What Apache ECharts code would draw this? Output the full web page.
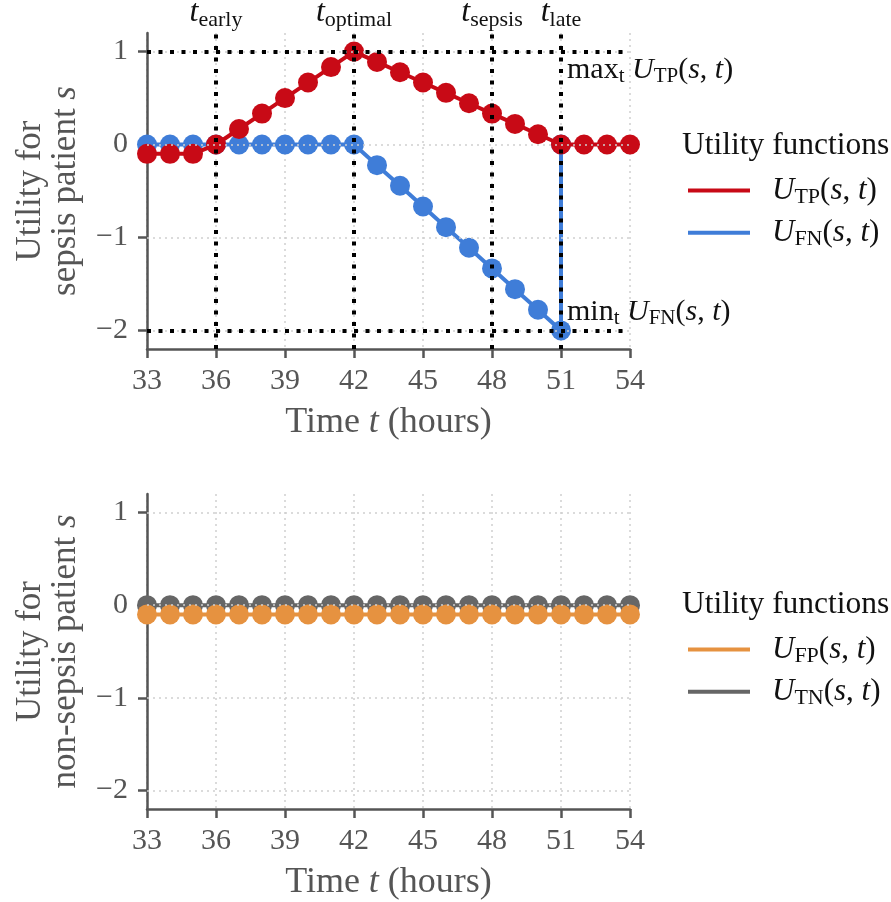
<!DOCTYPE html>
<html><head><meta charset="utf-8">
<script src="https://cdn.jsdelivr.net/npm/echarts@6/dist/echarts.min.js"></script>
<style>html,body{margin:0;padding:0;background:#fff}#c{width:891px;height:902px}</style>
</head><body><div id="c"></div>
<script>
// ---------------- data ----------------
const hours = [33,34,35,36,37,38,39,40,41,42,43,44,45,46,47,48,49,50,51,52,53,54];
const utp   = [-0.1,-0.1,-0.1,0,0.167,0.333,0.5,0.667,0.833,1,0.889,0.778,0.667,0.556,0.444,0.333,0.222,0.111,0,0,0,0];
const ufnHours = [33,34,35,36,37,38,39,40,41,42,43,44,45,46,47,48,49,50,51,51];
const ufn      = [0,0,0,0,0,0,0,0,0,0,-0.222,-0.444,-0.667,-0.889,-1.111,-1.333,-1.556,-1.778,-2,0];
const ufp   = [-0.1,-0.1,-0.1,-0.1,-0.1,-0.1,-0.1,-0.1,-0.1,-0.1,-0.1,-0.1,-0.1,-0.1,-0.1,-0.1,-0.1,-0.1,-0.1,-0.1,-0.1,-0.1];
const utn   = [0,0,0,0,0,0,0,0,0,0,0,0,0,0,0,0,0,0,0,0,0,0];
const xTicks = [33,36,39,42,45,48,51,54];
const yTicks = [-2,-1,0,1];
const timeMarks = [{sub:'early', x:36},{sub:'optimal', x:42},{sub:'sepsis', x:48},{sub:'late', x:51}];
const refLevels = [1,-2];
const extremes = [{op:'max', fn:'TP', x:51, y:0.8},{op:'min', fn:'FN', x:51, y:-1.8}];

// ---------------- style ----------------
const FF = "'Liberation Serif','Times New Roman',serif";
const AX = '#555';
const COL = {UTP:'#C80A16', UFN:'#3F7DD8', UFP:'#E69240', UTN:'#666666'};

function rich(size, color, lh){
  const s = Math.round(size*0.7);
  const L = size*(lh||1.15);
  return {
    rm:{fontFamily:FF, fontSize:size, color:color, lineHeight:L, verticalAlign:'middle'},
    it:{fontFamily:FF, fontStyle:'italic', fontSize:size, color:color, lineHeight:L, verticalAlign:'middle'},
    sub:{fontFamily:FF, fontSize:s, color:color, lineHeight:s, verticalAlign:'bottom'}
  };
}
function fnText(code){ return '{it|U}{sub|'+code+'}{rm|(}{it|s}{rm|, }{it|t}{rm|)}'; }

const xAxisBase = (gi) => ({
  type:'value', gridIndex:gi, min:33, max:54, interval:3,
  axisLine:{onZero:false, lineStyle:{color:AX, width:2.5}},
  axisTick:{length:9, lineStyle:{color:AX, width:2.5}},
  axisLabel:{margin:17, fontFamily:FF, fontSize:30, color:AX},
  splitLine:{show:true, lineStyle:{color:'#cfcfcf', width:1.5, type:[2,4]}},
  name:'{rm|Time }{it|t}{rm| (hours)}', nameLocation:'middle', nameGap:53,
  nameTextStyle:{rich:rich(36, AX)}
});
const yAxisBase = (gi, nm) => ({
  type:'value', gridIndex:gi, min:-2.2, max:1.2,
  axisLine:{onZero:false, lineStyle:{color:AX, width:2.5}},
  axisTick:{length:9, customValues:yTicks, lineStyle:{color:AX, width:2.5}},
  axisLabel:{margin:19, customValues:yTicks, fontFamily:FF, fontSize:30, color:AX,
    formatter:v => (v<0?'\u2212'+Math.abs(v):String(v))},
  splitLine:{show:false},
  name:nm, nameLocation:'middle', nameRotate:90, nameGap:64,
  nameTextStyle:{rich:rich(35, AX, 1.0)}
});

function pairs(xs, ys){ return xs.map((x,i)=>[x, ys[i]]); }

function dataSeries(name, xs, ys, gi, z){
  return {
    name:name, type:'line', xAxisIndex:gi, yAxisIndex:gi, z:z,
    data:pairs(xs, ys), symbol:'circle', symbolSize:20, showSymbol:true,
    lineStyle:{width:4, color:COL[name]}, itemStyle:{color:COL[name]},
    emphasis:{disabled:true}, silent:true, animation:false
  };
}
function gridSeries(gi){
  return {
    name:'grid'+gi, type:'line', xAxisIndex:gi, yAxisIndex:gi, z:1, data:[], silent:true, animation:false,
    markLine:{silent:true, symbol:['none','none'], label:{show:false}, animation:false,
      lineStyle:{color:'#cfcfcf', width:1.5, type:[2,4]},
      data:yTicks.map(v=>({yAxis:v}))}
  };
}

const refSeries = {
  name:'refs', type:'line', xAxisIndex:0, yAxisIndex:0, z:10, data:[], silent:true, animation:false,
  markLine:{silent:true, symbol:['none','none'], animation:false,
    lineStyle:{color:'#000', width:4, type:[4,7.5], cap:'butt'},
    data: timeMarks.map(m=>({xAxis:m.x, label:{show:true, position:'end', distance:2,
        formatter:'{it|t}{sub|'+m.sub+'}', rich:rich(32,'#111')}}))
      .concat(refLevels.map(v=>({yAxis:v, label:{show:false}})))
  },
  markPoint:{silent:true, animation:false, symbol:'circle', symbolSize:0,
    data: extremes.map(e=>({coord:[e.x, e.y], label:{show:true, position:'right', distance:6,
      formatter:'{rm|'+e.op+'}{sub|t}{rm| }'+fnText(e.fn), rich:rich(30,'#111')}}))
  }
};

const legendBase = (names, top) => ({
  data:names, orient:'vertical', left:683, top:top, icon:'rect', itemWidth:62, itemHeight:4, itemGap:9,
  selectedMode:false,
  formatter:n => fnText(n.slice(1)),
  textStyle:{padding:[0,0,0,17], rich:rich(31,'#111')}
});

const option = {
  animation:false,
  backgroundColor:'#fff',
  title:[
    {text:'Utility functions', left:682, top:130, padding:0, textStyle:{fontFamily:FF, fontSize:31.5, fontWeight:'normal', color:'#111'}},
    {text:'Utility functions', left:682, top:589, padding:0, textStyle:{fontFamily:FF, fontSize:31.5, fontWeight:'normal', color:'#111'}}
  ],
  legend:[legendBase(['UTP','UFN'], 170), legendBase(['UFP','UTN'], 629)],
  grid:[
    {left:147, top:33, width:483, height:316, outerBoundsMode:'none', containLabel:false},
    {left:147, top:494, width:483, height:315, outerBoundsMode:'none', containLabel:false}
  ],
  xAxis:[xAxisBase(0), xAxisBase(1)],
  yAxis:[
    yAxisBase(0, '{rm|Utility for}\n{rm|sepsis patient }{it|s}'),
    yAxisBase(1, '{rm|Utility for}\n{rm|non-sepsis patient }{it|s}')
  ],
  series:[
    gridSeries(0), gridSeries(1),
    dataSeries('UFN', ufnHours, ufn, 0, 3),
    dataSeries('UTP', hours, utp, 0, 4),
    dataSeries('UTN', hours, utn, 1, 3),
    dataSeries('UFP', hours, ufp, 1, 4),
    refSeries
  ]
};
const chart = echarts.init(document.getElementById('c'), null, {renderer:'canvas'});
chart.setOption(option);
</script></body></html>
